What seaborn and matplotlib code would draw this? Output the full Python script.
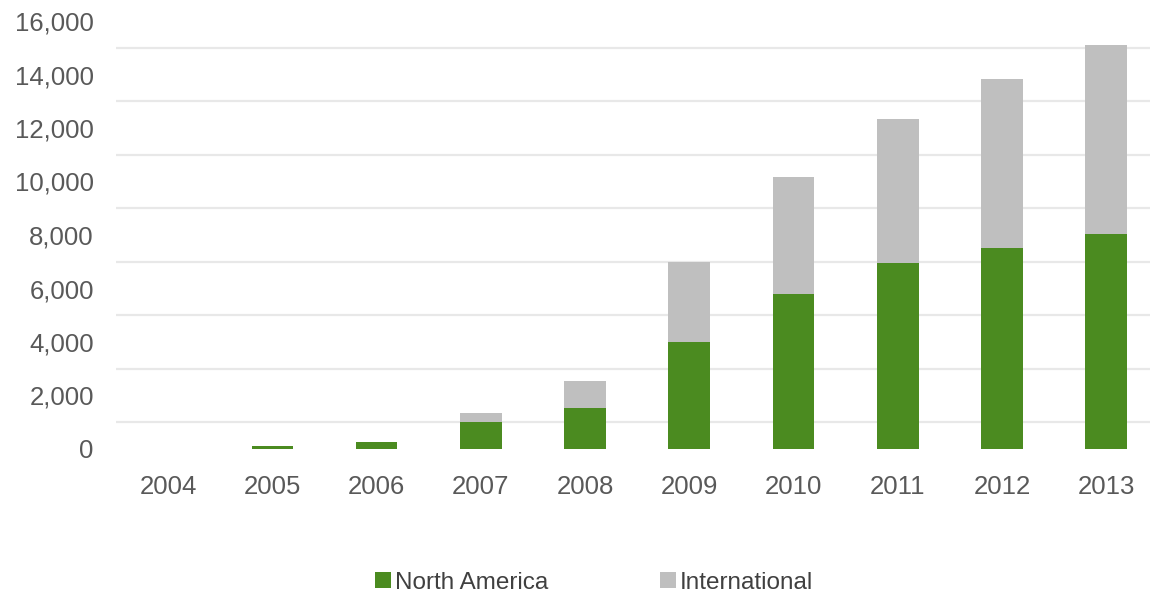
import matplotlib
matplotlib.use("Agg")
import matplotlib.pyplot as plt
import seaborn as sns
import pandas as pd

# data
years = ["2004", "2005", "2006", "2007", "2008", "2009", "2010", "2011", "2012", "2013"]
north_america = [0, 120, 250, 1020, 1520, 3990, 5790, 6940, 7500, 8030]
international = [0, 0, 0, 310, 1020, 3010, 4370, 5410, 6320, 7060]

green = "#4b8b20"
grey = "#bfbfbf"
text_col = "#595959"

sns.set_style("white")
plt.rcParams['font.family'] = ['Liberation Sans', 'DejaVu Sans']

df = pd.DataFrame({"year": years, "na": north_america, "intl": international})
df["total"] = df["na"] + df["intl"]

fig = plt.figure(figsize=(11.5, 5.96), dpi=100)
ax = fig.add_axes([116 / 1150, 1 - 449 / 596, 1 - 116 / 1150, 428 / 596])

# stacked: total in grey, north america in green on top of it
sns.barplot(data=df, x="year", y="total", color=grey, width=0.4, ax=ax,
            saturation=1, label="International", zorder=3, linewidth=0)
sns.barplot(data=df, x="year", y="na", color=green, width=0.4, ax=ax,
            saturation=1, label="North America", zorder=4, linewidth=0)

ax.set_ylim(0, 16000)
ax.set_xlim(-0.5, 9.42)
ax.set_yticks(range(0, 16001, 2000))
ax.set_yticklabels([f"{v:,}" for v in range(0, 16001, 2000)])
# gridlines in the reference sit halfway between the labelled values
ax.set_yticks(range(1000, 16000, 2000), minor=True)
ax.grid(which="minor", axis="y", color="#e8e8e8", linewidth=1.6, zorder=0)
ax.grid(which="major", visible=False)

ax.tick_params(axis="both", which="both", length=0, labelsize=18.5, labelcolor=text_col)
ax.tick_params(axis="y", pad=16)
ax.tick_params(axis="x", pad=19)
ax.set_xlabel("")
ax.set_ylabel("")
sns.despine(ax=ax, left=True, bottom=True)

handles, labels = ax.get_legend_handles_labels()
order = [labels.index("North America"), labels.index("International")]
leg = fig.legend([handles[i] for i in order], [labels[i] for i in order],
                 loc="center", bbox_to_anchor=(0.5165, 0.022), ncol=2, frameon=False,
                 fontsize=17.5, handlelength=0.65, handleheight=0.65, handletextpad=0.15,
                 columnspacing=4.6)
for t in leg.get_texts():
    t.set_color("#404040")
if ax.get_legend() is not None:
    ax.get_legend().remove()

fig.savefig("out.png", dpi=100, facecolor="white")
